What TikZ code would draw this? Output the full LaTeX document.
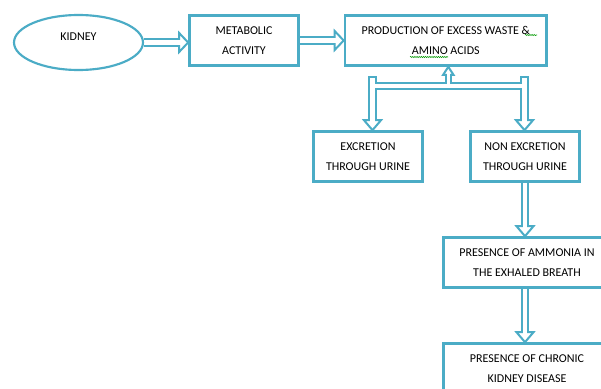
\documentclass[tikz,border=0pt]{standalone}
\usepackage{fontspec}
\setmainfont{Carlito}
\usetikzlibrary{calc,shapes.geometric,decorations.pathmorphing}
\definecolor{acc}{RGB}{75,172,198}
\pgfdeclarelayer{la}\pgfdeclarelayer{lb}\pgfdeclarelayer{lc}
\pgfsetlayers{la,lb,lc,main}
% #1 tail, #2 tip, #3 head half-width, #4 head length, #5 outer shaft, #6 inner shaft
\newcommand\blkarr[6]{%
  \coordinate (bT) at (#1);
  \coordinate (bP) at (#2);
  \coordinate (bB) at ($(bP)!#4!(bT)$);
  \begin{pgfonlayer}{la}\draw[acc,line width=#5] (bT) -- (bB);\end{pgfonlayer}
  \begin{pgfonlayer}{lb}\draw[acc,fill=white,line width=1.5pt,line join=miter]
     (bP) -- ($(bB)!#3!90:(bP)$) -- ($(bB)!#3!-90:(bP)$) -- cycle;\end{pgfonlayer}
  \begin{pgfonlayer}{lc}\draw[white,line width=#6] (bT) -- ($(bB)!1.3pt!(bP)$);\end{pgfonlayer}
}
\begin{document}
\begin{tikzpicture}[x=0.75pt,y=-0.75pt,
  box/.style={draw=acc, line width=2pt, fill=white, rectangle, inner sep=0pt,
    outer sep=auto, align=center, font=\fontsize{9}{15}\selectfont, text=black},
  wavy/.style={draw=green!60!black, line width=0.4pt, decorate,
    decoration={snake, amplitude=0.45pt, segment length=1.6pt}}]
\useasboundingbox (0,0) rectangle (601,389);
\begin{pgfonlayer}{la}\fill[white] (0,0) rectangle (601,389);\end{pgfonlayer}
\clip (0,0) rectangle (601,389);

\node[ellipse, draw=acc, line width=1.6pt, fill=white, inner sep=0pt, outer sep=auto,
  minimum width=96.75pt, minimum height=41.25pt,
  label={[font=\fontsize{9}{15}\selectfont, yshift=4.5pt]center:KIDNEY}] (kid) at (78.5,42.5) {};
\node[box, minimum width=81.75pt, minimum height=37.5pt] (met) at (244,40.5) {METABOLIC\\ACTIVITY};
\node[box, minimum width=151.1pt, minimum height=37.5pt] (prod) at (445.75,40.5) {PRODUCTION OF EXCESS WASTE \&\\AMINO ACIDS};
\node[box, minimum width=81.75pt, minimum height=37.5pt] (exc) at (368,156.5) {EXCRETION\\THROUGH URINE};
\node[box, minimum width=81.75pt, minimum height=37.5pt] (non) at (525,156.5) {NON EXCRETION\\THROUGH URINE};
\node[box, minimum width=125.25pt, minimum height=37.5pt] (amm) at (527,262.5) {PRESENCE OF AMMONIA IN\\THE EXHALED BREATH};
\node[box, minimum width=125.25pt, minimum height=37.5pt] (ckd) at (527,368.5) {PRESENCE OF CHRONIC\\KIDNEY DISEASE};

% spell-check underlines
\draw[wavy] (525,35) -- (537,35);
\draw[wavy] (410,57) -- (448,57);

% T junction
\coordinate (jl) at (372.5,76);
\coordinate (jr) at (524.5,76);
\coordinate (jm) at (448.3,86);
\begin{pgfonlayer}{la}
  \draw[acc,line width=6.4pt] (jl) -- (jl |- jm);
  \draw[acc,line width=6.4pt] (jr) -- (jr |- jm);
  \draw[acc,line width=6.6pt] (jl |- jm) -- (jr |- jm);
\end{pgfonlayer}
\begin{pgfonlayer}{lc}
  \draw[white,line width=3.4pt] ($(jl)+(0,2)$) -- (jl |- jm);
  \draw[white,line width=3.4pt] ($(jr)+(0,2)$) -- (jr |- jm);
  \draw[white,line width=3.6pt] (jl |- jm) -- (jr |- jm);
\end{pgfonlayer}

\blkarr{kid.east}{kid.east -| met.west}{7.1pt}{6.75pt}{6.4pt}{3.4pt}
\blkarr{met.east}{prod.west}{7.1pt}{6.75pt}{6.4pt}{3.4pt}
\blkarr{jm}{jm |- prod.south}{3.9pt}{6pt}{5.2pt}{2.2pt}
\blkarr{jl |- jm}{jl |- exc.north}{6.4pt}{7.5pt}{6.4pt}{3.4pt}
\blkarr{jr |- jm}{jr |- non.north}{6.4pt}{7.5pt}{6.4pt}{3.4pt}
\blkarr{non.south}{non.south |- amm.north}{6.4pt}{7.5pt}{6.4pt}{3.4pt}
\blkarr{non.south |- amm.south}{non.south |- ckd.north}{6.4pt}{7.5pt}{6.4pt}{3.4pt}
\end{tikzpicture}
\end{document}
